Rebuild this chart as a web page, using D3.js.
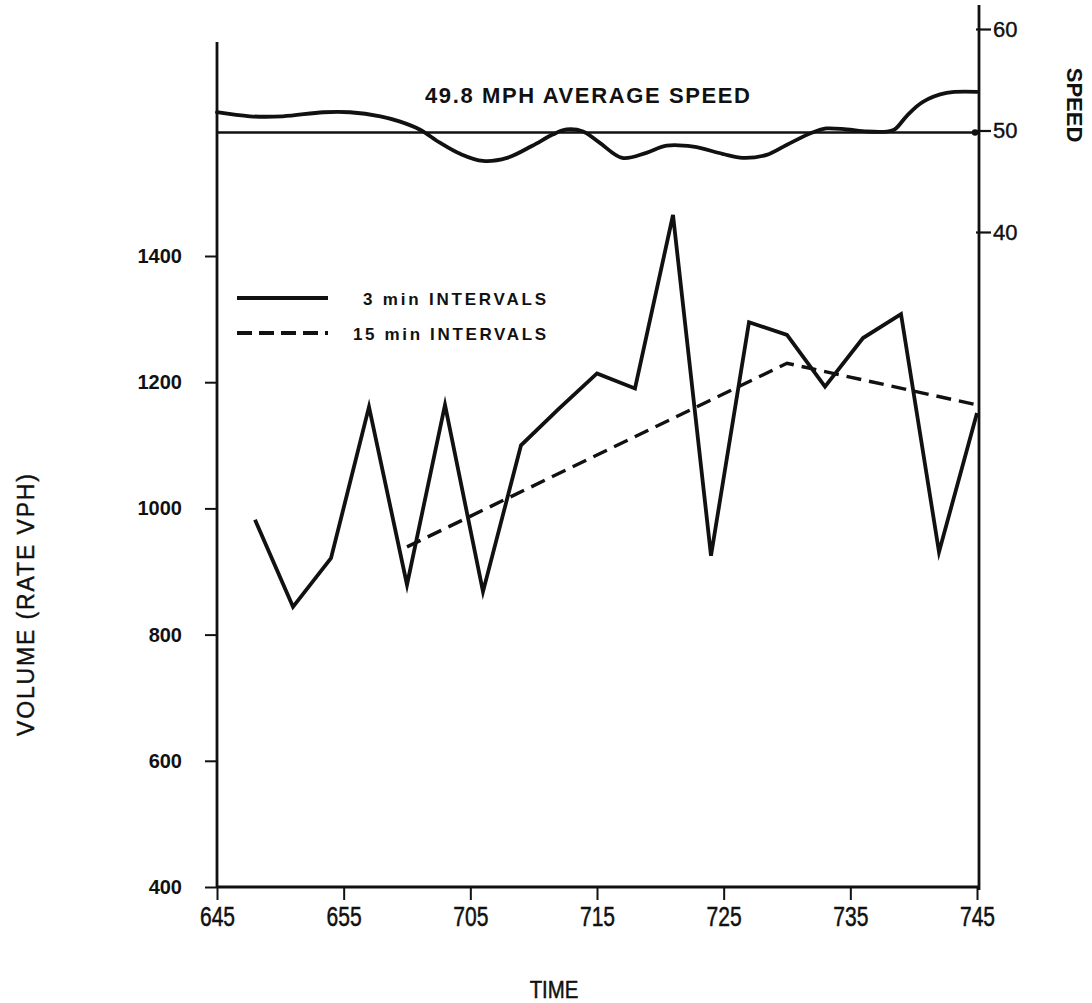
<!DOCTYPE html>
<html>
<head>
<meta charset="utf-8">
<script src="https://cdn.jsdelivr.net/npm/d3@7"></script>
<style>
  html, body { margin: 0; padding: 0; background: #ffffff; }
  svg { display: block; }
  text { fill: #111; }
</style>
</head>
<body>
<script>
// Traffic volume (3 and 15 minute rates) and spot speed, 6:45 to 7:45.
// Time is kept as minutes after 6:45.
const timeTicks = [0, 10, 20, 30, 40, 50, 60];
const timeLabels = ["645", "655", "705", "715", "725", "735", "745"];
const volumeTicks = [400, 600, 800, 1000, 1200, 1400];
const speedTicks = [40, 50, 60];

// 3-minute volume rates (vph)
const minutes3 = [3, 6, 9, 12, 15, 18, 21, 24, 27, 30, 33, 36, 39, 42, 45, 48, 51, 54, 57, 60];
const volume3 = [982, 844, 921, 1161, 879, 1164, 868, 1100, 1158, 1214, 1190, 1465, 925, 1295, 1275, 1193, 1270, 1308, 931, 1151];

// 15-minute volume rates (vph)
const minutes15 = [15, 45, 60];
const volume15 = [939, 1230, 1164];

// Speed trace (mph)
const speedMinutes = [0, 2.6, 5.2, 8.4, 10.5, 12.9, 14.4, 16.0, 17.6, 19.2, 21.0, 22.9, 24.9, 26.5, 27.6, 28.9, 30.2, 32.0, 33.9, 35.5, 37.6, 39.9, 41.5, 43.4, 45.0, 47.0, 48.1, 49.7, 51.3, 52.9, 53.5, 54.5, 55.7, 57.6, 60];
const speedMph = [51.8, 51.4, 51.4, 51.8, 51.8, 51.4, 50.9, 50.1, 48.8, 47.7, 47.0, 47.3, 48.5, 49.6, 50.1, 49.9, 48.8, 47.3, 47.8, 48.5, 48.4, 47.7, 47.3, 47.6, 48.6, 49.8, 50.2, 50.1, 49.9, 49.9, 50.1, 51.5, 52.8, 53.7, 53.8];
const averageSpeed = 49.8;

const W = 1092, H = 1003;
const svg = d3.select("body").append("svg").attr("width", W).attr("height", H);
svg.append("rect").attr("width", W).attr("height", H).attr("fill", "#fff");

const x = d3.scaleLinear().domain([0, 60]).range([217, 977]);
const yVol = d3.scaleLinear().domain([400, 1400]).range([887, 256]);
const ySpd = d3.scaleLinear().domain([40, 60]).range([232, 29]);

const ink = "#111";
const font = "Liberation Sans, Arial, Helvetica, sans-serif";
const leftX = 217, rightX = 979, baseY = 887;

// Frame spines
svg.append("line").attr("x1", leftX).attr("x2", leftX).attr("y1", baseY + 1).attr("y2", 42)
  .attr("stroke", ink).attr("stroke-width", 2.8);
svg.append("line").attr("x1", rightX).attr("x2", rightX).attr("y1", baseY + 3).attr("y2", 5)
  .attr("stroke", ink).attr("stroke-width", 2.8);
svg.append("line").attr("x1", leftX).attr("x2", rightX).attr("y1", baseY).attr("y2", baseY)
  .attr("stroke", ink).attr("stroke-width", 3);

// Left axis: volume
const gL = svg.append("g").attr("transform", `translate(${leftX},0)`)
  .call(d3.axisLeft(yVol).tickValues(volumeTicks).tickFormat(d3.format("d"))
    .tickSize(12).tickPadding(23));
gL.select(".domain").remove();
gL.selectAll(".tick line").attr("stroke", ink).attr("stroke-width", 2);
gL.selectAll(".tick text").attr("font-family", font)
  .attr("font-size", 20).attr("font-weight", "bold").attr("fill", ink);

// Right axis: speed
const gR = svg.append("g").attr("transform", `translate(${rightX},0)`)
  .call(d3.axisRight(ySpd).tickValues(speedTicks).tickSize(12).tickPadding(2));
gR.select(".domain").remove();
gR.selectAll(".tick line").attr("stroke", ink).attr("stroke-width", 2.2).attr("x1", -3);
gR.selectAll(".tick text").attr("font-family", font)
  .attr("font-size", 22).attr("fill", ink).attr("stroke", ink).attr("stroke-width", 0.4);

// Bottom axis: time of day
const gB = svg.append("g").attr("transform", `translate(0,${baseY})`)
  .call(d3.axisBottom(x).tickValues(timeTicks).tickFormat((d, i) => timeLabels[i])
    .tickSize(13).tickPadding(7));
gB.select(".domain").remove();
gB.selectAll(".tick line").attr("stroke", ink).attr("stroke-width", 2);
gB.selectAll(".tick text").attr("font-family", font)
  .attr("font-size", 27).attr("transform", "scale(0.78,1)").attr("fill", ink)
  .attr("stroke", ink).attr("stroke-width", 0.5);

// 15-minute dashed volume line
const volLine = d3.line().x(d => x(d[0])).y(d => yVol(d[1]));
svg.append("path")
  .datum(minutes15.map((m, i) => [m, volume15[i]]))
  .attr("d", volLine)
  .attr("fill", "none").attr("stroke", ink).attr("stroke-width", 3.4)
  .attr("stroke-dasharray", "15,8");

// 3-minute solid volume line
svg.append("path")
  .datum(minutes3.map((m, i) => [m, volume3[i]]))
  .attr("d", volLine)
  .attr("fill", "none").attr("stroke", ink).attr("stroke-width", 3.8)
  .attr("stroke-linejoin", "miter").attr("stroke-miterlimit", 6);

// Average speed reference line
svg.append("line")
  .attr("x1", x(0)).attr("x2", x(60))
  .attr("y1", ySpd(averageSpeed)).attr("y2", ySpd(averageSpeed))
  .attr("stroke", ink).attr("stroke-width", 2.6);
svg.append("circle").attr("cx", x(60) - 2).attr("cy", ySpd(averageSpeed)).attr("r", 3.2).attr("fill", ink);

// Speed trace
const spdLine = d3.line().curve(d3.curveCatmullRom.alpha(0.5))
  .x(d => x(d[0])).y(d => ySpd(d[1]));
svg.append("path")
  .datum(speedMinutes.map((m, i) => [m, speedMph[i]]))
  .attr("d", spdLine)
  .attr("fill", "none").attr("stroke", ink).attr("stroke-width", 3.8)
  .attr("stroke-linecap", "round");

// Titles and labels
svg.append("text").attr("x", 425).attr("y", 103)
  .attr("font-family", font).attr("font-size", 22)
  .attr("font-weight", "bold").attr("textLength", 325).attr("lengthAdjust", "spacing")
  .text("49.8 MPH AVERAGE SPEED");

svg.append("text")
  .attr("transform", "translate(34,605) rotate(-90)")
  .attr("text-anchor", "middle")
  .attr("font-family", font).attr("font-size", 23)
  .attr("stroke", ink).attr("stroke-width", 0.4)
  .attr("textLength", 262).attr("lengthAdjust", "spacing")
  .text("VOLUME (RATE VPH)");

svg.append("text")
  .attr("transform", "translate(1067,105) rotate(90)")
  .attr("text-anchor", "middle")
  .attr("font-family", font).attr("font-size", 22)
  .attr("font-weight", "bold")
  .text("SPEED");

svg.append("g").attr("transform", "translate(554,998) scale(0.85,1)")
  .append("text").attr("text-anchor", "middle")
  .attr("font-family", font).attr("font-size", 24)
  .attr("stroke", ink).attr("stroke-width", 0.5)
  .text("TIME");

// Legend
const legend = [
  { label: "3 min INTERVALS", dash: null, ly: 298, tx: 363, len: 183 },
  { label: "15 min INTERVALS", dash: "15,7", ly: 333, tx: 353, len: 193 }
];
legend.forEach(d => {
  svg.append("line").attr("x1", 237).attr("x2", 328).attr("y1", d.ly).attr("y2", d.ly)
    .attr("stroke", ink).attr("stroke-width", 4)
    .attr("stroke-dasharray", d.dash);
  svg.append("text").attr("x", d.tx).attr("y", d.ly + 7)
    .attr("font-family", font).attr("font-size", 17)
    .attr("font-weight", "bold").attr("textLength", d.len).attr("lengthAdjust", "spacing")
    .text(d.label);
});
</script>
</body>
</html>
